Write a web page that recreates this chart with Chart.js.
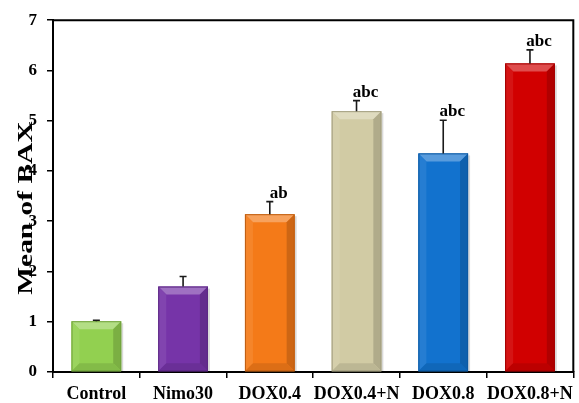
<!DOCTYPE html>
<html>
<head>
<meta charset="utf-8">
<script src="https://cdn.jsdelivr.net/npm/chart.js@4"></script>
<style>
html,body{margin:0;padding:0;background:#fff;}
#wrap{width:579px;height:403px;position:relative;}
</style>
</head>
<body>
<div id="wrap"><canvas id="c" width="579" height="403"></canvas></div>
<script>
const categories = ['Control', 'Nimo30', 'DOX0.4', 'DOX0.4+N', 'DOX0.8', 'DOX0.8+N'];
const meanValues = [1.01, 1.70, 3.14, 5.19, 4.35, 6.14];
const errorValues = [0.02, 0.20, 0.25, 0.21, 0.66, 0.27];
const letters = ['', '', 'ab', 'abc', 'abc', 'abc'];
const barColors = ['#92D050', '#7634A8', '#F47A18', '#D1CBA4', '#1272CE', '#D10000'];
const yTicks = [0, 1, 2, 3, 4, 5, 6, 7];
const yTitle = 'Mean of BAX';

function hexToRgb(h){h=h.replace('#','');return [parseInt(h.substr(0,2),16),parseInt(h.substr(2,2),16),parseInt(h.substr(4,2),16)];}
function mix(h, target, t){const c=hexToRgb(h);return 'rgb('+c.map((v,i)=>Math.round(v+(target[i]-v)*t)).join(',')+')';}

const bevelPlugin = {
  id:'bevel',
  afterDatasetsDraw(chart){
    const ctx = chart.ctx;
    const meta = chart.getDatasetMeta(0);
    const ys = chart.scales.y;
    meta.data.forEach((el, i) => {
      const p = el.getProps(['x','y','base','width'], true);
      const l = p.x - p.width/2, r = p.x + p.width/2, t = p.y, bt = p.base;
      const b = 8;
      const col = barColors[i];
      const poly = (pts, fill) => {ctx.beginPath();ctx.moveTo(pts[0][0],pts[0][1]);for(let k=1;k<pts.length;k++)ctx.lineTo(pts[k][0],pts[k][1]);ctx.closePath();ctx.fillStyle=fill;ctx.fill();};
      ctx.save();
      ctx.fillStyle='rgba(0,0,0,0.15)';
      ctx.fillRect(r, t+2, 2, bt-t-2);
      poly([[l,t],[r,t],[r-b,t+b],[l+b,t+b]], mix(col,[255,255,255],0.3));
      poly([[l,t],[l+b,t+b],[l+b,bt-b],[l,bt]], mix(col,[255,255,255],0.08));
      poly([[r,t],[r,bt],[r-b,bt-b],[r-b,t+b]], mix(col,[0,0,0],0.16));
      poly([[l,bt],[r,bt],[r-b,bt-b],[l+b,bt-b]], mix(col,[0,0,0],0.1));
      ctx.strokeStyle = mix(col,[0,0,0],0.22);
      ctx.lineWidth = 1;
      ctx.strokeRect(l+0.5, t+0.5, p.width-1, bt-t-1);
      const yTop = ys.getPixelForValue(meanValues[i] + errorValues[i]);
      ctx.strokeStyle = '#1a1a1a';
      ctx.lineWidth = 1.6;
      ctx.beginPath();
      ctx.moveTo(p.x, t); ctx.lineTo(p.x, yTop);
      ctx.moveTo(p.x-3.5, yTop); ctx.lineTo(p.x+3.5, yTop);
      ctx.stroke();
      if (letters[i]) {
        ctx.fillStyle = '#000';
        ctx.font = 'bold 17px "Liberation Serif", "Times New Roman", serif';
        ctx.textAlign = 'center';
        ctx.textBaseline = 'alphabetic';
        ctx.fillText(letters[i], p.x + 9, yTop - 4);
      }
      ctx.restore();
    });
  },
  afterDraw(chart){
    const ctx = chart.ctx, a = chart.chartArea;
    ctx.save();
    ctx.strokeStyle='#000';
    ctx.lineWidth=2;
    ctx.beginPath();
    ctx.moveTo(a.left, a.top); ctx.lineTo(a.right, a.top); ctx.lineTo(a.right, a.bottom);
    ctx.stroke();
    ctx.translate(27, (a.top + a.bottom)/2 + 12);
    ctx.rotate(-Math.PI/2);
    ctx.scale(1.4, 1);
    ctx.fillStyle='#000';
    ctx.font='bold 21px "Liberation Serif", "Times New Roman", serif';
    ctx.textAlign='center';
    ctx.textBaseline='middle';
    ctx.fillText(yTitle, 0, 0);
    ctx.restore();
  }
};

new Chart(document.getElementById('c'), {
  type:'bar',
  data:{
    labels: categories,
    datasets:[{
      data: meanValues,
      backgroundColor: barColors,
      borderWidth: 0,
      barPercentage: 0.573,
      categoryPercentage: 1.0
    }]
  },
  options:{
    responsive:false,
    animation:false,
    devicePixelRatio:1,
    layout:{padding:{top:18, right:2, left:0, bottom:0}},
    plugins:{legend:{display:false}, tooltip:{enabled:false}},
    scales:{
      x:{
        afterFit(s){ s.height = 31; },
        grid:{display:true, drawOnChartArea:false, drawTicks:true, tickLength:6, color:'#000', lineWidth:1.5, offset:true},
        border:{display:true, color:'#000', width:2},
        ticks:{color:'#000', padding:6, maxRotation:0, minRotation:0, autoSkip:false, font:{family:'"Liberation Serif", "Times New Roman", serif', size:18, weight:'bold'}}
      },
      y:{
        min:0, max:7,
        afterFit(s){ s.width = 53; },
        afterBuildTicks(s){ s.ticks = yTicks.map(v=>({value:v})); },
        grid:{display:true, drawOnChartArea:false, drawTicks:true, tickLength:6, color:'#000', lineWidth:1.5},
        border:{display:true, color:'#000', width:2},
        ticks:{color:'#000', padding:10, font:{family:'"Liberation Serif", "Times New Roman", serif', size:17, weight:'bold'}}
      }
    }
  },
  plugins:[bevelPlugin]
});
</script>
</body>
</html>
